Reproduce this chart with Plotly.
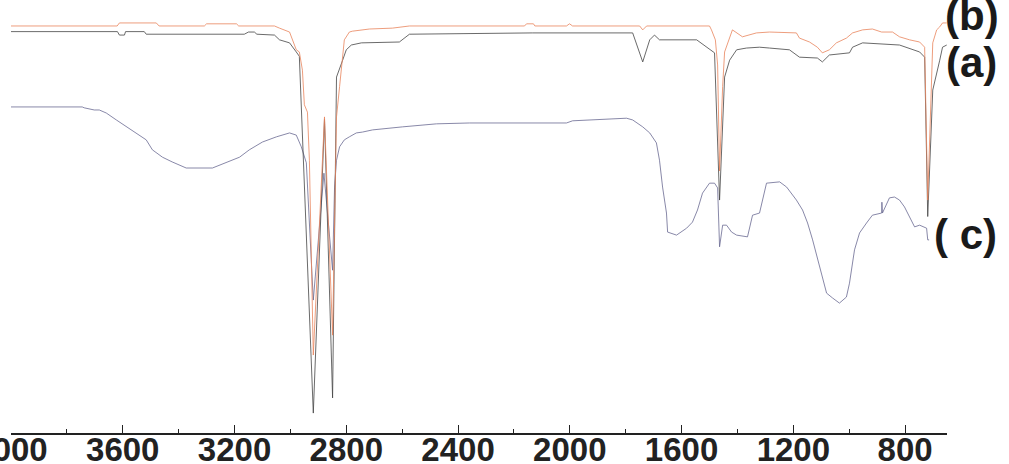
import plotly.graph_objects as go

# Wavenumber (cm-1) and transmittance-like values (arbitrary offset units)
b_wn = [4000, 3620, 3612, 3480, 3470, 3308, 3300, 3193, 3185, 3057, 3039, 3003, 2979, 2968,
        2957, 2950, 2939, 2932, 2918, 2878, 2849, 2835, 2824, 2813, 2807, 2789, 2778, 2717,
        2635, 2574, 2162, 2155, 2130, 2125, 2012, 2001, 1990, 1750, 1739, 1725, 1518, 1500,
        1493, 1479, 1471, 1464, 1453, 1446, 1418, 1382, 1332, 1285, 1189, 1178, 1142, 1114,
        1096, 1071, 1046, 1010, 988, 952, 917, 884, 845, 820, 784, 748, 730, 719, 701, 687,
        676, 666, 651]
b_val = [94.0, 94.0, 94.7, 94.7, 94.0, 94.0, 94.5, 94.5, 94.0, 94.0, 93.5, 92.6, 88.5, 88.0,
         83.8, 75.8, 74.1, 63.0, 18.0, 73.0, 22.6, 73.0, 80.0, 87.8, 90.8, 92.6, 92.8, 93.3,
         93.5, 94.0, 94.0, 94.5, 94.5, 94.0, 94.0, 94.5, 94.0, 94.0, 93.1, 94.0, 94.0, 94.0,
         93.1, 90.8, 85.0, 60.5, 80.0, 88.0, 93.1, 91.5, 92.4, 92.6, 92.4, 91.2, 90.3, 89.1,
         87.8, 88.5, 90.1, 91.2, 92.4, 93.1, 93.3, 92.6, 92.6, 91.5, 90.8, 90.3, 89.1, 53.8,
         90.1, 93.1, 93.8, 94.7, 94.7]

a_wn = [4000, 3619, 3612, 3594, 3590, 3523, 3516, 3165, 3150, 3129, 3120, 3057, 3039, 3003,
        2979, 2968, 2918, 2878, 2849, 2835, 2813, 2800, 2782, 2746, 2610, 2574, 2133, 1775,
        1739, 1714, 1697, 1679, 1546, 1536, 1518, 1482, 1464, 1446, 1428, 1403, 1368, 1321,
        1285, 1214, 1178, 1114, 1096, 1071, 999, 988, 952, 820, 748, 730, 719, 701, 676,
        666, 651]
a_val = [92.7, 92.7, 91.9, 91.9, 92.7, 92.7, 92.1, 92.1, 92.6, 92.6, 92.1, 91.9, 90.8, 90.1,
         88.0, 87.0, 4.6, 72.5, 8.1, 82.2, 86.1, 88.5, 89.6, 90.1, 90.3, 92.1, 92.4, 92.4,
         85.7, 90.8, 91.9, 90.8, 90.8, 90.3, 89.6, 87.8, 53.8, 82.2, 86.1, 88.5, 88.9, 89.1,
         88.9, 88.5, 86.8, 86.6, 85.7, 87.3, 87.8, 89.1, 90.1, 89.6, 88.0, 86.8, 50.0, 79.2,
         86.1, 89.1, 89.6]

c_wn = [4000, 3745, 3738, 3702, 3684, 3659, 3623, 3587, 3551, 3516, 3494, 3458, 3423, 3373,
        3279, 3229, 3182, 3147, 3100, 3050, 3003, 2979, 2961, 2943, 2918, 2880, 2849, 2842,
        2835, 2824, 2807, 2789, 2764, 2742, 2706, 2599, 2477, 2359, 2012, 1990, 1822, 1797,
        1775, 1739, 1714, 1690, 1679, 1668, 1654, 1650, 1618, 1582, 1561, 1543, 1525, 1500,
        1482, 1471, 1464, 1453, 1439, 1421, 1403, 1364, 1346, 1321, 1296, 1249, 1224, 1207,
        1189, 1167, 1149, 1131, 1114, 1099, 1081, 1060, 1035, 1010, 999, 981, 963, 938, 917,
        884, 883, 881, 856, 838, 820, 802, 784, 766, 748, 723, 719, 714]
c_val = [75.3, 75.3, 75.1, 74.6, 74.6, 73.9, 72.3, 70.7, 69.3, 67.7, 65.4, 63.7, 62.6, 61.2,
         61.2, 62.4, 63.7, 65.4, 67.2, 68.4, 69.3, 68.8, 66.1, 62.4, 30.7, 60.0, 37.6, 56.8,
         63.0, 66.1, 67.7, 68.4, 69.3, 69.5, 70.0, 70.7, 71.4, 71.6, 71.6, 72.1, 72.5, 72.7,
         72.3, 70.7, 69.3, 67.0, 63.0, 56.8, 50.8, 46.4, 45.7, 47.3, 48.7, 51.5, 55.4, 57.7,
         57.7, 56.6, 43.0, 48.0, 48.0, 46.4, 45.7, 45.3, 50.3, 50.8, 57.7, 58.0, 56.8, 55.4,
         53.8, 51.5, 48.5, 44.6, 40.6, 37.0, 32.3, 31.2, 30.0, 31.4, 34.6, 42.3, 46.2, 48.5,
         50.3, 50.8, 53.3, 50.8, 54.3, 54.5, 53.8, 52.2, 49.9, 47.6, 48.0, 47.3, 44.6, 44.6]

major_ticks = [4000, 3600, 3200, 2800, 2400, 2000, 1600, 1200, 800]
tick_labels = ["4000", "3600", "3200", "2800", "2400", "2000", "1600", "1200", "800"]
minor_ticks = [3800, 3400, 3000, 2600, 2200, 1800, 1400, 1000]

fig = go.Figure()
fig.add_trace(go.Scatter(x=c_wn, y=c_val, mode="lines", name="(c)",
                         line=dict(color="#6a6a92", width=0.8)))
fig.add_trace(go.Scatter(x=a_wn, y=a_val, mode="lines", name="(a)",
                         line=dict(color="#444444", width=0.8)))
fig.add_trace(go.Scatter(x=b_wn, y=b_val, mode="lines", name="(b)",
                         line=dict(color="#e8845c", width=0.8)))

lab_font = dict(family="Liberation Sans, Arial, sans-serif", size=42, color="#1a1a1a")
for txt, yv, xs in [("(b)", 96.5, 972), ("(a)", 85.5, 972), ("( c)", 45.8, 966)]:
    fig.add_annotation(text="<b>" + txt + "</b>", xref="paper", yref="y",
                       x=(xs - 11) / 936, y=yv, showarrow=False, font=lab_font,
                       xanchor="center", yanchor="middle")

fig.update_layout(
    width=1009, height=464,
    margin=dict(l=11, r=62, t=0, b=31, autoexpand=False),
    paper_bgcolor="white", plot_bgcolor="white",
    showlegend=False,
    xaxis=dict(range=[4000, 650], tickmode="array", tickvals=major_ticks, ticktext=tick_labels,
               automargin=False, ticklabelstandoff=-13, ticklabeloverflow="allow",
               ticks="inside", ticklen=8, tickwidth=1, tickcolor="#222",
               showline=True, linecolor="#222", linewidth=1.5, showgrid=False, zeroline=False,
               tickfont=dict(family="Liberation Sans, Arial, sans-serif", size=33, color="#222",
                             weight="bold"),
               minor=dict(tickvals=minor_ticks, ticks="inside", ticklen=4, tickcolor="#222")),
    yaxis=dict(range=[0, 100], visible=False, showgrid=False, zeroline=False, automargin=False),
)

fig.write_html("out.html", config={"displayModeBar": False},
               post_script="document.body.style.margin='0';document.body.style.overflow='hidden';")
